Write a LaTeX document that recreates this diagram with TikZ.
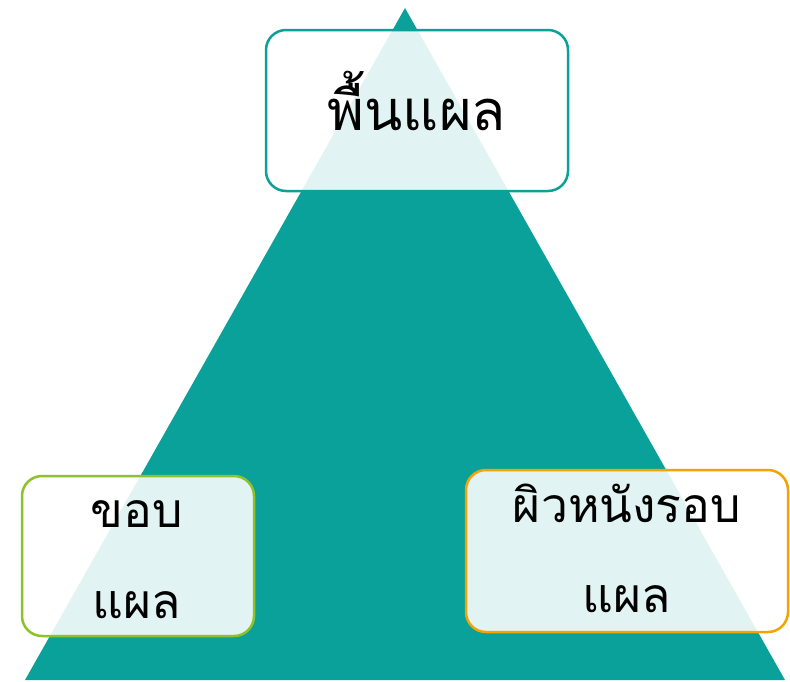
\documentclass[tikz,border=0pt]{standalone}
\usepackage{fontspec}
\newfontfamily\thaifont[Script=Thai]{Loma}
\definecolor{teal1}{HTML}{0AA19A}
\definecolor{greenb}{HTML}{8DC22B}
\definecolor{orangeb}{HTML}{F5A300}
\begin{document}
\begin{tikzpicture}[x=1pt,y=-1pt,
  box/.style={line width=2.5pt, rounded corners=20pt, fill=white, fill opacity=0.88, draw=#1},
  lbl/.style={anchor=base, inner sep=0pt, font=\thaifont\fontsize{48}{56}\selectfont, text=black}]
\useasboundingbox (0,0) rectangle (790,681);
\fill[teal1] (405,8) -- (785,680) -- (25,680) -- cycle;
\path[box=teal1] (266,30) rectangle (568,191);
\path[box=greenb] (22,476) rectangle (254,636);
\path[box=orangeb] (466,470) rectangle (788,632);
\node[lbl, font=\thaifont\fontsize{56}{64}\selectfont] (top) at (417,130) {พื้นแผล};
\node[lbl] (l1) at (137,527) {ขอบ};
\node[lbl] (l2) at (137,618) {แผล};
\node[lbl] (r1) at (627,522) {ผิวหนังรอบ};
\node[lbl] (r2) at (627,612) {แผล};
\end{tikzpicture}
\end{document}
